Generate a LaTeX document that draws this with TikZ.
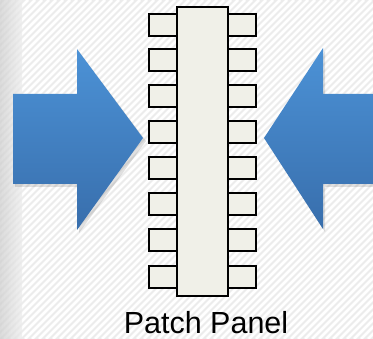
\documentclass[tikz,border=0pt]{standalone}
\usepackage{fontspec}
\setmainfont{Liberation Sans}
\definecolor{bggray}{RGB}{236,236,236}
\definecolor{edgegray}{RGB}{205,205,205}
\definecolor{arrowtop}{RGB}{76,146,214}
\definecolor{arrowbot}{RGB}{56,110,172}
\definecolor{boxfill}{RGB}{240,240,232}
\tikzset{
  pin/.style={draw=black, line width=1.8pt, fill=boxfill, minimum width=28pt, minimum height=22pt, inner sep=0pt, rectangle},
  bar/.style={draw=black, line width=1.8pt, fill=boxfill, minimum width=51pt, minimum height=289pt, inner sep=0pt, rectangle},
  bluearrow/.style={top color=arrowtop, bottom color=arrowbot, draw=none}
}
\begin{document}
\begin{tikzpicture}[x=1pt,y=-1pt]
\useasboundingbox (0,0) rectangle (373,339);
\begin{scope}
\clip (0,0) rectangle (373,339);
\fill[bggray] (0,0) rectangle (373,339);
\foreach \i in {-360,-353,...,380} {
  \draw[white, line width=2.6pt] (\i,339) -- ++(339,-339);
}
\shade[left color=edgegray, right color=bggray, opacity=0.7] (0,0) rectangle (22,339);
\end{scope}
% arrows
\fill[black, opacity=0.12] (15,97) -- (79,97) -- (79,52) -- (146,141) -- (79,233) -- (79,187) -- (15,187) -- cycle;
\shade[bluearrow] (13,94) -- (77,94) -- (77,49) -- (143,138) -- (77,230) -- (77,184) -- (13,184) -- cycle;
\fill[black, opacity=0.12] (376,97) -- (325,97) -- (325,51) -- (267,141) -- (325,232) -- (325,187) -- (376,187) -- cycle;
\shade[bluearrow] (374,94) -- (323,94) -- (323,48) -- (264,138) -- (323,229) -- (323,184) -- (374,184) -- cycle;
% pins
\foreach \y [count=\k] in {25,60,96,132,168,204,240,277} {
  \node[pin] (L\k) at (163,\y) {};
  \node[pin] (R\k) at (242,\y) {};
}
\node[bar] (panel) at (202.5,151.5) {};
\node[font=\fontsize{30.5}{31}\selectfont, anchor=base, inner sep=0pt] (label) at (206,333.5) {Patch Panel};
\end{tikzpicture}
\end{document}
